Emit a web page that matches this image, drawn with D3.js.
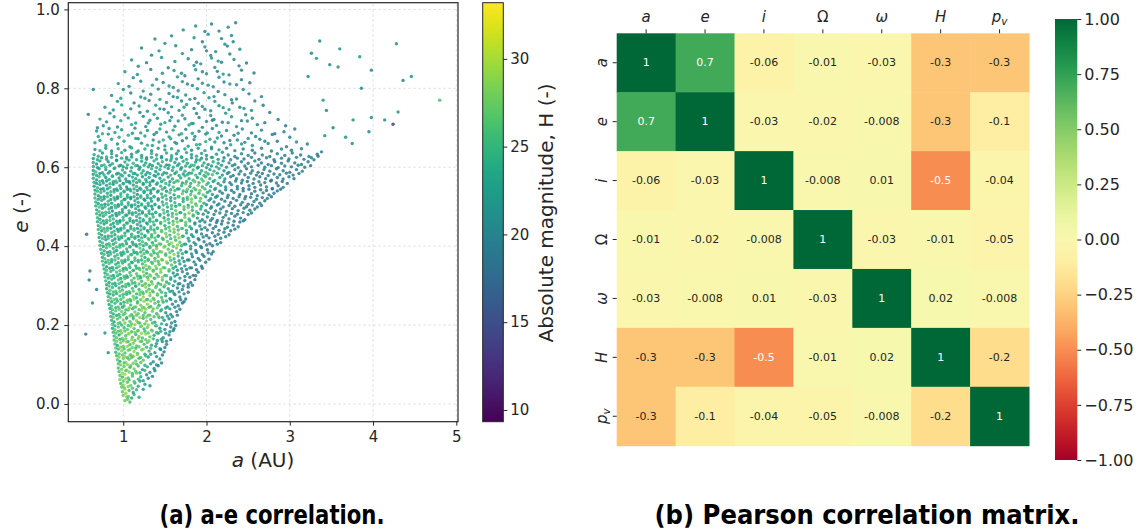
<!DOCTYPE html>
<html>
<head>
<meta charset="utf-8">
<script src="https://cdn.jsdelivr.net/npm/d3@7"></script>
<style>
  body { margin: 0; background: #fff; }
  svg text { font-family: "DejaVu Sans", sans-serif; fill: #262626; }
</style>
</head>
<body>
<svg id="fig" width="1141" height="532"></svg>
<script>
// ---- scatter data: [a (AU), e, H] ----
var apexBand = [
  [1.02,.008,28],[1.05,.012,27],[1.08,.005,26],[1.04,.018,29],[1.10,.015,24],
  [0.99,.031,27],[1.03,.027,29],[1.07,.034,26],[1.12,.029,23],[1.16,.036,25],[1.01,.041,28],
  [0.97,.052,26],[1.00,.048,29],[1.05,.055,27],[1.09,.047,28],[1.14,.053,24],[1.20,.058,22],[1.26,.050,23],[1.32,.046,21],
  [0.96,.072,27],[0.99,.068,25],[1.02,.075,30],[1.06,.066,27],[1.11,.071,26],[1.16,.078,28],[1.21,.069,24],[1.28,.074,22],[1.35,.070,20],
  [0.94,.091,26],[0.98,.088,28],[1.01,.095,27],[1.04,.086,29],[1.08,.093,25],[1.13,.089,28],[1.18,.096,26],[1.23,.087,23],[1.29,.094,24],[1.37,.090,21],[1.42,.097,20],
  [0.93,.112,27],[0.96,.108,24],[1.00,.115,28],[1.03,.106,30],[1.07,.113,27],[1.10,.118,26],[1.15,.109,28],[1.19,.116,25],[1.24,.111,27],[1.30,.119,23],[1.36,.107,22],[1.44,.114,21],
  [0.91,.131,25],[0.95,.127,27],[0.98,.135,29],[1.02,.129,26],[1.06,.136,28],[1.09,.125,27],[1.13,.133,29],[1.17,.128,26],[1.22,.137,28],[1.26,.126,24],[1.31,.134,25],[1.38,.130,22],[1.45,.138,21],[1.49,.132,20],
  [0.90,.152,26],[0.93,.148,24],[0.97,.155,28],[1.00,.146,27],[1.04,.157,29],[1.08,.150,26],[1.12,.154,28],[1.16,.147,27],[1.20,.158,30],[1.25,.151,26],[1.29,.156,27],[1.34,.149,24],[1.40,.153,22],[1.47,.158,21],[1.52,.151,20],
  [0.89,.172,25],[0.92,.168,27],[0.95,.175,23],[0.99,.166,28],[1.03,.173,26],[1.07,.178,29],[1.11,.169,27],[1.15,.176,25],[1.19,.171,28],[1.23,.167,26],[1.27,.177,29],[1.32,.170,27],[1.37,.174,24],[1.42,.179,23],[1.48,.168,22],[1.55,.175,20],
  [0.87,.192,24],[0.90,.188,27],[0.94,.195,26],[0.97,.186,28],[1.01,.193,25],[1.05,.189,27],[1.09,.197,29],[1.13,.191,26],[1.17,.185,28],[1.21,.196,27],[1.25,.190,25],[1.29,.194,28],[1.34,.187,26],[1.39,.198,23],[1.44,.192,22],[1.50,.189,21],[1.57,.195,20],[1.61,.191,19]
];
var midBand = [
  [0.86,.212,25],[0.89,.208,23],[0.93,.215,27],[0.96,.206,26],[1.00,.213,28],[1.04,.218,24],[1.08,.209,27],[1.12,.216,26],[1.16,.211,29],[1.20,.205,27],[1.24,.217,25],[1.28,.210,28],[1.33,.214,26],[1.38,.207,24],[1.43,.219,25],[1.49,.212,22],[1.55,.216,21],[1.62,.209,20],
  [0.85,.232,26],[0.88,.228,24],[0.91,.236,27],[0.95,.227,25],[0.98,.234,28],[1.02,.230,26],[1.06,.238,27],[1.10,.226,25],[1.14,.233,28],[1.18,.229,27],[1.22,.237,30],[1.26,.231,26],[1.30,.225,27],[1.35,.235,28],[1.40,.229,25],[1.45,.236,23],[1.51,.231,22],[1.57,.227,21],[1.64,.234,20],
  [0.83,.252,24],[0.86,.248,26],[0.90,.255,25],[0.94,.246,27],[0.97,.254,23],[1.01,.249,26],[1.05,.257,28],[1.09,.251,25],[1.13,.245,27],[1.17,.256,26],[1.21,.250,28],[1.25,.244,27],[1.29,.253,29],[1.33,.247,26],[1.38,.255,27],[1.43,.250,24],[1.48,.258,25],[1.53,.246,22],[1.59,.253,21],[1.66,.249,20],[1.71,.256,19],
  [0.82,.272,25],[0.85,.268,27],[0.88,.276,24],[0.92,.266,26],[0.96,.274,25],[1.00,.270,27],[1.04,.278,24],[1.08,.265,26],[1.12,.273,28],[1.16,.269,25],[1.20,.277,27],[1.24,.271,29],[1.28,.264,26],[1.32,.275,28],[1.36,.268,27],[1.41,.276,25],[1.46,.270,26],[1.51,.274,23],[1.56,.267,22],[1.62,.277,21],[1.68,.271,20],[1.75,.266,19],
  [0.80,.292,24],[0.84,.288,26],[0.87,.295,25],[0.91,.286,27],[0.95,.294,24],[0.99,.289,26],[1.03,.297,25],[1.07,.285,27],[1.11,.293,26],[1.15,.298,28],[1.19,.290,25],[1.23,.284,27],[1.27,.296,29],[1.31,.291,26],[1.35,.287,28],[1.39,.295,27],[1.44,.289,25],[1.49,.297,24],[1.54,.292,23],[1.59,.286,22],[1.65,.294,21],[1.71,.290,20],[1.78,.296,19],
  [0.79,.312,25],[0.83,.308,23],[0.86,.316,26],[0.90,.306,24],[0.94,.314,27],[0.98,.309,25],[1.02,.318,26],[1.06,.305,24],[1.10,.313,27],[1.14,.307,25],[1.18,.317,28],[1.22,.311,26],[1.26,.304,27],[1.30,.315,29],[1.34,.310,26],[1.38,.318,28],[1.42,.306,25],[1.47,.314,27],[1.52,.309,24],[1.57,.316,22],[1.62,.311,23],[1.68,.305,21],[1.74,.313,20],[1.81,.308,19],[1.86,.315,19],
  [0.78,.332,24],[0.81,.328,26],[0.85,.336,25],[0.88,.326,23],[0.92,.334,26],[0.96,.329,24],[1.00,.337,27],[1.04,.325,25],[1.08,.333,26],[1.12,.338,24],[1.16,.330,27],[1.20,.324,26],[1.24,.335,28],[1.28,.331,25],[1.32,.327,27],[1.36,.336,29],[1.40,.329,26],[1.45,.334,28],[1.50,.326,25],[1.55,.337,24],[1.60,.332,22],[1.65,.328,21],[1.71,.335,21],[1.77,.330,20],[1.84,.326,19],[1.90,.334,19],
  [0.76,.352,25],[0.80,.348,23],[0.83,.356,26],[0.87,.346,24],[0.91,.354,25],[0.95,.349,27],[0.99,.357,24],[1.03,.345,26],[1.07,.353,25],[1.11,.358,27],[1.15,.350,24],[1.19,.344,26],[1.23,.355,25],[1.27,.351,28],[1.31,.347,26],[1.35,.356,27],[1.39,.349,29],[1.43,.354,26],[1.48,.346,28],[1.53,.357,25],[1.58,.352,27],[1.63,.348,23],[1.68,.355,22],[1.74,.350,21],[1.80,.345,20],[1.87,.353,19],[1.94,.349,19],
  [0.75,.372,24],[0.78,.368,26],[0.82,.376,23],[0.86,.366,25],[0.90,.374,24],[0.94,.369,26],[0.98,.377,23],[1.02,.365,25],[1.06,.373,27],[1.10,.378,24],[1.14,.370,26],[1.18,.364,25],[1.22,.375,27],[1.26,.371,24],[1.30,.367,26],[1.34,.376,28],[1.38,.369,25],[1.42,.374,27],[1.46,.366,29],[1.51,.377,26],[1.56,.372,28],[1.61,.368,25],[1.66,.375,24],[1.71,.370,22],[1.77,.365,21],[1.83,.373,20],[1.90,.369,20],[1.97,.374,19],[2.03,.367,19],
  [0.73,.392,25],[0.77,.388,23],[0.80,.396,26],[0.84,.386,24],[0.88,.394,25],[0.92,.389,23],[0.96,.397,26],[1.00,.385,24],[1.04,.393,25],[1.08,.398,23],[1.12,.390,26],[1.16,.384,24],[1.20,.395,27],[1.24,.391,25],[1.28,.387,26],[1.32,.396,24],[1.36,.389,27],[1.40,.394,28],[1.44,.386,26],[1.49,.397,29],[1.54,.392,27],[1.59,.388,25],[1.64,.395,28],[1.69,.390,24],[1.75,.385,22],[1.81,.393,21],[1.87,.389,20],[1.94,.396,20],[2.01,.391,19],[2.08,.386,19],
  [0.72,.412,24],[0.75,.408,26],[0.79,.416,23],[0.83,.406,25],[0.87,.414,24],[0.91,.409,26],[0.95,.417,23],[0.99,.405,25],[1.03,.413,24],[1.07,.418,26],[1.11,.410,23],[1.15,.404,25],[1.19,.415,24],[1.23,.411,26],[1.27,.407,25],[1.31,.416,27],[1.35,.409,24],[1.39,.414,26],[1.43,.406,28],[1.48,.417,25],[1.53,.412,27],[1.58,.408,29],[1.63,.415,26],[1.68,.410,27],[1.73,.405,24],[1.79,.413,22],[1.85,.409,21],[1.91,.416,20],[1.97,.411,20],[2.04,.406,19],[2.11,.414,19],[2.17,.409,20],
  [0.71,.432,25],[0.74,.428,23],[0.78,.436,26],[0.82,.426,24],[0.86,.434,25],[0.90,.429,23],[0.94,.437,24],[0.98,.425,26],[1.02,.433,23],[1.06,.438,25],[1.10,.430,24],[1.14,.424,26],[1.18,.435,23],[1.22,.431,25],[1.26,.427,24],[1.30,.436,26],[1.34,.429,25],[1.38,.434,27],[1.42,.426,24],[1.46,.437,26],[1.51,.432,28],[1.56,.428,25],[1.61,.435,27],[1.66,.430,29],[1.71,.425,26],[1.76,.433,24],[1.82,.429,22],[1.88,.436,21],[1.94,.431,20],[2.00,.427,20],[2.07,.434,19],[2.14,.430,19],[2.21,.435,20],[2.27,.429,19]
];
var upperBand = [
  [0.70,.452,24],[0.73,.448,26],[0.77,.456,23],[0.81,.446,25],[0.85,.454,24],[0.89,.449,22],[0.93,.457,25],[0.97,.445,23],[1.01,.453,24],[1.05,.458,26],[1.09,.450,23],[1.13,.444,25],[1.17,.455,24],[1.21,.451,22],[1.25,.447,25],[1.29,.456,24],[1.33,.449,26],[1.37,.454,23],[1.41,.446,25],[1.45,.457,27],[1.50,.452,24],[1.55,.448,26],[1.60,.455,28],[1.65,.450,25],[1.70,.445,27],[1.75,.453,26],[1.80,.449,24],[1.86,.456,22],[1.92,.451,21],[1.98,.447,20],[2.04,.454,20],[2.11,.450,19],[2.18,.456,19],[2.25,.448,20],[2.32,.453,19],[2.38,.449,20],
  [0.69,.472,25],[0.72,.468,23],[0.76,.476,24],[0.80,.466,26],[0.84,.474,23],[0.88,.469,25],[0.92,.477,22],[0.96,.465,24],[1.00,.473,25],[1.04,.478,23],[1.08,.470,24],[1.12,.464,22],[1.16,.475,25],[1.20,.471,23],[1.24,.467,24],[1.28,.476,26],[1.32,.469,23],[1.36,.474,25],[1.40,.466,24],[1.44,.477,26],[1.49,.472,23],[1.54,.468,25],[1.59,.475,27],[1.64,.470,24],[1.69,.465,26],[1.74,.473,28],[1.79,.469,25],[1.84,.476,27],[1.89,.471,23],[1.95,.467,21],[2.01,.474,21],[2.07,.470,20],[2.13,.465,19],[2.20,.473,20],[2.27,.469,19],[2.34,.476,19],[2.41,.471,20],[2.46,.467,19],
  [0.68,.492,24],[0.71,.488,26],[0.75,.496,23],[0.79,.486,25],[0.83,.494,24],[0.87,.489,22],[0.91,.497,25],[0.95,.485,23],[0.99,.493,24],[1.03,.498,22],[1.07,.490,25],[1.11,.484,23],[1.15,.495,24],[1.19,.491,22],[1.23,.487,25],[1.27,.496,23],[1.31,.489,24],[1.35,.494,22],[1.39,.486,25],[1.43,.497,23],[1.48,.492,26],[1.53,.488,24],[1.58,.495,25],[1.63,.490,27],[1.68,.485,24],[1.73,.493,26],[1.78,.498,28],[1.83,.491,25],[1.88,.487,27],[1.93,.494,24],[1.99,.490,22],[2.05,.496,21],[2.11,.489,20],[2.17,.494,20],[2.24,.488,19],[2.31,.495,19],[2.38,.490,20],[2.45,.496,19],[2.52,.491,20],[2.58,.494,19],
  [0.67,.512,25],[0.70,.508,23],[0.74,.516,24],[0.78,.506,22],[0.82,.514,25],[0.86,.509,23],[0.90,.517,24],[0.94,.505,22],[0.98,.513,25],[1.02,.518,23],[1.06,.510,24],[1.10,.504,22],[1.14,.515,24],[1.18,.511,23],[1.22,.507,25],[1.26,.516,22],[1.30,.509,24],[1.34,.514,23],[1.38,.506,25],[1.42,.517,22],[1.47,.512,24],[1.52,.508,26],[1.57,.515,23],[1.62,.510,25],[1.67,.505,27],[1.72,.513,24],[1.77,.518,26],[1.82,.511,28],[1.87,.507,25],[1.92,.514,27],[1.97,.509,24],[2.03,.516,22],[2.09,.512,21],[2.15,.507,20],[2.22,.514,20],[2.29,.510,19],[2.36,.516,19],[2.43,.511,20],[2.50,.506,19],[2.57,.513,20],[2.64,.509,19],[2.70,.515,19],
  [0.66,.532,24],[0.70,.528,22],[0.73,.536,25],[0.77,.526,23],[0.81,.534,24],[0.85,.529,22],[0.89,.537,25],[0.93,.525,23],[0.97,.533,24],[1.01,.538,22],[1.05,.530,24],[1.09,.524,23],[1.13,.535,25],[1.17,.531,22],[1.21,.527,24],[1.25,.536,23],[1.29,.529,25],[1.33,.534,22],[1.37,.526,24],[1.41,.537,23],[1.46,.532,25],[1.51,.528,24],[1.56,.535,26],[1.61,.530,23],[1.66,.525,25],[1.71,.533,27],[1.76,.538,24],[1.81,.531,26],[1.86,.527,28],[1.91,.534,25],[1.96,.530,27],[2.01,.536,24],[2.07,.531,23],[2.13,.527,21],[2.19,.534,20],[2.26,.529,20],[2.33,.536,19],[2.40,.531,20],[2.47,.526,19],[2.54,.533,19],[2.61,.528,20],[2.68,.535,19],[2.75,.530,19],[2.81,.534,20],
  [0.65,.552,23],[0.69,.548,25],[0.72,.556,22],[0.76,.546,24],[0.80,.554,23],[0.84,.549,25],[0.88,.557,22],[0.92,.545,24],[0.96,.553,23],[1.00,.558,25],[1.04,.550,22],[1.08,.544,24],[1.12,.555,23],[1.16,.551,25],[1.20,.547,22],[1.24,.556,24],[1.28,.549,23],[1.32,.554,22],[1.36,.546,24],[1.40,.557,23],[1.45,.552,25],[1.50,.548,22],[1.55,.555,24],[1.60,.550,26],[1.65,.545,23],[1.70,.553,25],[1.75,.558,27],[1.80,.551,24],[1.85,.547,26],[1.90,.554,28],[1.95,.550,25],[2.00,.556,27],[2.05,.551,24],[2.11,.547,26],[2.17,.554,23],[2.23,.550,21],[2.30,.556,20],[2.37,.551,20],[2.44,.546,19],[2.51,.553,20],[2.58,.549,19],[2.65,.555,19],[2.72,.550,20],[2.79,.546,19],[2.86,.553,19],[2.92,.549,20],
  [0.64,.572,24],[0.68,.568,22],[0.71,.576,25],[0.75,.566,23],[0.79,.574,22],[0.83,.569,24],[0.87,.577,23],[0.91,.565,25],[0.95,.573,22],[0.99,.578,24],[1.03,.570,23],[1.07,.564,22],[1.11,.575,24],[1.15,.571,23],[1.19,.567,25],[1.23,.576,22],[1.27,.569,24],[1.31,.574,23],[1.35,.566,22],[1.39,.577,24],[1.44,.572,23],[1.49,.568,25],[1.54,.575,22],[1.59,.570,24],[1.64,.565,26],[1.69,.573,23],[1.74,.578,25],[1.79,.571,24],[1.84,.567,26],[1.89,.574,23],[1.94,.570,27],[1.99,.576,25],[2.04,.571,24],[2.10,.567,26],[2.16,.574,23],[2.22,.570,22],[2.29,.576,21],[2.36,.571,20],[2.43,.567,20],[2.50,.574,19],[2.57,.570,20],[2.64,.576,19],[2.71,.571,19],[2.78,.567,20],[2.85,.574,19],[2.92,.570,20],[2.99,.576,19],[3.05,.571,19],
  [0.64,.592,23],[0.67,.588,25],[0.71,.596,22],[0.75,.586,24],[0.79,.594,23],[0.84,.589,22],[0.89,.597,24],[0.94,.585,23],[0.99,.593,25],[1.04,.598,22],[1.09,.590,24],[1.14,.584,23],[1.19,.595,22],[1.24,.591,24],[1.29,.587,23],[1.34,.596,25],[1.39,.589,22],[1.44,.594,24],[1.49,.586,23],[1.54,.597,22],[1.59,.592,24],[1.64,.588,25],[1.69,.595,23],[1.74,.590,24],[1.79,.585,22],[1.84,.593,25],[1.89,.598,23],[1.94,.591,24],[1.99,.587,26],[2.04,.594,23],[2.09,.590,25],[2.15,.596,24],[2.21,.591,22],[2.27,.587,21],[2.34,.594,20],[2.41,.590,20],[2.48,.596,19],[2.55,.591,20],[2.62,.587,19],[2.69,.594,20],[2.76,.590,19],[2.84,.596,19],[2.92,.591,20],[3.00,.587,19],[3.08,.594,19],[3.15,.590,20],
  [0.64,.612,24],[0.68,.608,22],[0.72,.616,23],[0.77,.606,25],[0.82,.614,22],[0.87,.609,24],[0.92,.617,23],[0.97,.605,22],[1.02,.613,24],[1.07,.618,23],[1.12,.610,25],[1.17,.604,22],[1.22,.615,24],[1.27,.611,23],[1.32,.607,22],[1.37,.616,24],[1.42,.609,23],[1.47,.614,25],[1.52,.606,22],[1.57,.617,24],[1.62,.612,23],[1.67,.608,22],[1.72,.615,24],[1.77,.610,23],[1.82,.605,25],[1.87,.613,22],[1.92,.618,24],[1.97,.611,23],[2.02,.607,22],[2.08,.614,24],[2.14,.610,23],[2.20,.616,22],[2.27,.611,21],[2.34,.607,20],[2.42,.614,20],[2.50,.610,19],[2.58,.616,20],[2.66,.611,19],[2.74,.607,20],[2.82,.614,19],[2.90,.610,20],[2.98,.616,19],[3.06,.611,19],[3.14,.607,20],[3.22,.614,19],[3.29,.619,20],
  [0.65,.632,23],[0.70,.628,24],[0.75,.636,22],[0.80,.626,24],[0.86,.634,23],[0.92,.629,22],[0.98,.637,24],[1.04,.625,23],[1.10,.633,22],[1.16,.638,24],[1.22,.630,23],[1.28,.624,22],[1.34,.635,24],[1.40,.631,23],[1.46,.627,22],[1.52,.636,24],[1.58,.629,23],[1.64,.634,22],[1.70,.626,24],[1.76,.637,23],[1.82,.632,22],[1.88,.628,24],[1.94,.635,23],[2.00,.630,22],[2.06,.625,24],[2.12,.633,23],[2.19,.638,22],[2.26,.631,21],[2.34,.627,20],[2.42,.634,21],[2.50,.630,20],[2.58,.636,19],[2.67,.631,20],[2.76,.627,19],[2.85,.634,20],[2.94,.630,19],[3.03,.636,20],[3.13,.631,19],[3.23,.627,20],[3.33,.633,19],[3.38,.639,20]
];
// in-between rows of the dense wedge
var fillBand = [
  [1.00,.022,28],[1.06,.019,27],[1.13,.024,25],[1.19,.017,24],
  [0.98,.043,27],[1.02,.038,29],[1.06,.044,28],[1.11,.040,26],[1.18,.045,24],[1.24,.037,22],
  [0.96,.062,28],[1.00,.058,27],[1.03,.064,29],[1.07,.061,26],[1.13,.057,27],[1.18,.063,25],[1.24,.059,23],[1.30,.065,21],
  [0.95,.082,26],[0.99,.078,29],[1.03,.084,27],[1.07,.081,28],[1.11,.077,26],[1.15,.083,27],[1.20,.079,24],[1.26,.085,25],[1.32,.080,22],[1.38,.084,21],
  [0.94,.102,27],[0.97,.099,28],[1.01,.104,26],[1.05,.100,29],[1.09,.097,27],[1.12,.103,28],[1.16,.101,26],[1.21,.105,27],[1.26,.098,24],[1.33,.102,22],[1.40,.099,21],[1.46,.104,20],
  [0.92,.122,26],[0.95,.119,28],[0.99,.124,27],[1.02,.120,29],[1.05,.117,26],[1.08,.123,28],[1.12,.121,27],[1.17,.125,29],[1.21,.118,26],[1.27,.122,25],[1.33,.126,23],[1.40,.120,22],[1.47,.124,20],
  [0.91,.142,27],[0.94,.139,25],[0.97,.144,28],[1.01,.140,26],[1.05,.146,29],[1.08,.138,27],[1.11,.143,28],[1.15,.141,26],[1.19,.145,27],[1.24,.139,28],[1.28,.144,25],[1.33,.141,26],[1.39,.146,23],[1.44,.140,22],[1.50,.143,20],
  [0.89,.162,26],[0.92,.159,28],[0.96,.164,25],[1.00,.160,27],[1.03,.165,28],[1.06,.158,26],[1.10,.163,29],[1.14,.161,27],[1.18,.166,28],[1.22,.159,26],[1.27,.163,27],[1.31,.160,28],[1.36,.165,25],[1.41,.161,23],[1.46,.164,22],[1.52,.159,21],[1.57,.163,20],
  [0.88,.182,25],[0.91,.179,27],[0.94,.184,26],[0.98,.180,28],[1.02,.185,27],[1.06,.178,29],[1.10,.183,26],[1.14,.181,28],[1.18,.186,27],[1.22,.179,29],[1.26,.184,26],[1.30,.180,27],[1.35,.185,28],[1.40,.181,25],[1.45,.184,24],[1.51,.179,22],[1.56,.183,21],[1.60,.186,20],
  [0.87,.202,26],[0.90,.198,24],[0.94,.204,27],[0.98,.200,25],[1.02,.205,28],[1.06,.199,26],[1.10,.203,27],[1.14,.201,29],[1.18,.206,26],[1.22,.198,28],[1.26,.203,27],[1.30,.200,29],[1.35,.205,26],[1.40,.199,27],[1.46,.203,24],[1.52,.201,22],[1.58,.205,21],[1.63,.199,20],
  [0.85,.222,25],[0.88,.219,27],[0.92,.224,24],[0.96,.220,26],[1.00,.226,27],[1.04,.218,25],[1.08,.223,28],[1.12,.221,26],[1.16,.225,27],[1.20,.219,29],[1.24,.224,26],[1.28,.220,28],[1.32,.225,27],[1.37,.221,26],[1.42,.224,28],[1.47,.219,24],[1.53,.223,22],[1.59,.221,21],[1.65,.225,20],
  [0.84,.242,24],[0.87,.239,26],[0.91,.244,25],[0.95,.240,27],[0.99,.245,24],[1.03,.238,26],[1.07,.243,28],[1.11,.241,25],[1.15,.246,27],[1.19,.239,26],[1.23,.244,28],[1.27,.240,29],[1.31,.245,26],[1.36,.241,27],[1.41,.244,28],[1.46,.239,25],[1.51,.243,23],[1.56,.241,22],[1.62,.245,21],[1.68,.240,20],
  [0.82,.262,26],[0.86,.259,24],[0.89,.264,27],[0.93,.260,25],[0.97,.265,26],[1.01,.258,24],[1.05,.263,27],[1.09,.261,25],[1.13,.266,28],[1.17,.259,26],[1.21,.264,27],[1.25,.260,29],[1.29,.265,26],[1.33,.261,28],[1.37,.264,27],[1.42,.259,25],[1.47,.263,27],[1.52,.261,24],[1.57,.265,22],[1.63,.260,21],[1.69,.264,20],[1.73,.259,19],
  [0.81,.282,25],[0.84,.279,23],[0.88,.284,26],[0.92,.280,24],[0.96,.285,27],[1.00,.278,25],[1.04,.283,26],[1.08,.281,24],[1.12,.286,27],[1.16,.279,25],[1.20,.284,28],[1.24,.280,26],[1.28,.285,27],[1.32,.281,29],[1.36,.284,26],[1.41,.279,28],[1.46,.283,26],[1.51,.281,25],[1.56,.285,23],[1.61,.280,22],[1.67,.284,21],[1.73,.279,20],[1.78,.283,19],
  [0.80,.302,24],[0.83,.299,26],[0.87,.304,25],[0.91,.300,23],[0.95,.305,26],[0.99,.298,24],[1.03,.303,27],[1.07,.301,25],[1.11,.306,26],[1.15,.299,24],[1.19,.304,27],[1.23,.300,26],[1.27,.305,28],[1.31,.301,26],[1.35,.304,29],[1.40,.299,27],[1.45,.303,26],[1.50,.301,28],[1.55,.305,24],[1.60,.300,22],[1.66,.304,21],[1.72,.299,20],[1.78,.303,20],[1.83,.301,19],
  [0.78,.322,25],[0.82,.319,23],[0.85,.324,26],[0.89,.320,24],[0.93,.325,25],[0.97,.318,23],[1.01,.323,26],[1.05,.321,24],[1.09,.326,27],[1.13,.319,25],[1.17,.324,26],[1.21,.320,24],[1.25,.325,27],[1.29,.321,26],[1.33,.324,28],[1.37,.319,26],[1.42,.323,27],[1.47,.321,29],[1.52,.325,26],[1.57,.320,24],[1.62,.324,22],[1.68,.319,21],[1.74,.323,20],[1.80,.321,19],[1.87,.325,19],
  [0.77,.342,24],[0.80,.339,26],[0.84,.344,23],[0.88,.340,25],[0.92,.345,24],[0.96,.338,26],[1.00,.343,23],[1.04,.341,25],[1.08,.346,24],[1.12,.339,26],[1.16,.344,25],[1.20,.340,27],[1.24,.345,25],[1.28,.341,26],[1.32,.344,28],[1.36,.339,26],[1.40,.343,27],[1.45,.341,29],[1.50,.345,26],[1.55,.340,27],[1.60,.344,24],[1.65,.339,22],[1.70,.343,21],[1.76,.341,20],[1.82,.345,20],[1.88,.340,19],[1.95,.344,19],
  [0.75,.362,25],[0.79,.359,23],[0.82,.364,26],[0.86,.360,24],[0.90,.365,25],[0.94,.358,23],[0.98,.363,26],[1.02,.361,24],[1.06,.366,25],[1.10,.359,23],[1.14,.364,26],[1.18,.360,25],[1.22,.365,24],[1.26,.361,27],[1.30,.364,25],[1.34,.359,26],[1.38,.363,28],[1.42,.361,26],[1.47,.365,27],[1.52,.360,29],[1.57,.364,26],[1.62,.359,25],[1.67,.363,23],[1.73,.361,21],[1.79,.365,20],[1.85,.360,20],[1.92,.364,19],[1.99,.359,19],
  [0.74,.382,24],[0.77,.379,26],[0.81,.384,23],[0.85,.380,25],[0.89,.385,24],[0.93,.378,26],[0.97,.383,23],[1.01,.381,25],[1.05,.386,24],[1.09,.379,26],[1.13,.384,23],[1.17,.380,25],[1.21,.385,24],[1.25,.381,26],[1.29,.384,25],[1.33,.379,27],[1.37,.383,24],[1.41,.381,26],[1.46,.385,28],[1.51,.380,26],[1.56,.384,27],[1.61,.379,29],[1.66,.383,26],[1.71,.381,24],[1.76,.385,22],[1.82,.380,21],[1.88,.384,20],[1.95,.379,20],[2.02,.383,19],[2.06,.380,19],
  [0.72,.402,25],[0.76,.399,23],[0.80,.404,24],[0.84,.400,26],[0.88,.405,23],[0.92,.398,25],[0.96,.403,24],[1.00,.401,26],[1.04,.406,23],[1.08,.399,25],[1.12,.404,24],[1.16,.400,22],[1.20,.405,25],[1.24,.401,24],[1.28,.404,26],[1.32,.399,25],[1.36,.403,27],[1.40,.401,24],[1.45,.405,26],[1.50,.400,28],[1.55,.404,26],[1.60,.399,27],[1.65,.403,29],[1.70,.401,25],[1.75,.405,23],[1.81,.400,21],[1.87,.404,21],[1.93,.399,20],[2.00,.403,20],[2.07,.401,19],[2.13,.405,19],
  [0.71,.422,24],[0.75,.419,26],[0.78,.424,23],[0.82,.420,25],[0.86,.425,24],[0.90,.418,22],[0.94,.423,25],[0.98,.421,24],[1.02,.426,26],[1.06,.419,23],[1.10,.424,25],[1.14,.420,24],[1.18,.425,22],[1.22,.421,25],[1.26,.424,24],[1.30,.419,26],[1.34,.423,25],[1.38,.421,27],[1.42,.425,24],[1.47,.420,26],[1.52,.424,28],[1.57,.419,25],[1.62,.423,27],[1.67,.421,28],[1.72,.425,25],[1.78,.420,23],[1.84,.424,21],[1.90,.419,20],[1.96,.423,20],[2.03,.421,19],[2.10,.425,19],[2.17,.420,20],[2.23,.424,19],
  [0.70,.442,25],[0.74,.439,23],[0.77,.444,24],[0.81,.440,26],[0.85,.445,23],[0.89,.438,25],[0.93,.443,22],[0.97,.441,24],[1.01,.446,25],[1.05,.439,23],[1.09,.444,24],[1.13,.440,26],[1.17,.445,23],[1.21,.441,25],[1.25,.444,24],[1.29,.439,22],[1.33,.443,25],[1.37,.441,24],[1.41,.445,26],[1.46,.440,27],[1.51,.444,25],[1.56,.439,27],[1.61,.443,28],[1.66,.441,25],[1.71,.445,26],[1.76,.440,24],[1.82,.444,22],[1.88,.439,21],[1.94,.443,20],[2.01,.441,20],[2.08,.445,19],[2.15,.440,19],[2.22,.444,20],[2.29,.439,19],[2.34,.443,19],
  [0.69,.462,24],[0.73,.459,25],[0.76,.464,23],[0.80,.460,24],[0.84,.465,26],[0.88,.458,23],[0.92,.463,24],[0.96,.461,22],[1.00,.466,25],[1.04,.459,24],[1.08,.464,23],[1.12,.460,25],[1.16,.465,24],[1.20,.461,22],[1.24,.464,25],[1.28,.459,23],[1.32,.463,24],[1.36,.461,26],[1.40,.465,24],[1.45,.460,25],[1.50,.464,27],[1.55,.459,24],[1.60,.463,26],[1.65,.461,28],[1.70,.465,25],[1.75,.460,27],[1.80,.464,24],[1.86,.459,22],[1.92,.463,21],[1.98,.461,20],[2.05,.465,20],[2.12,.460,19],[2.19,.464,19],[2.26,.459,20],[2.33,.463,19],[2.40,.461,19],[2.44,.464,20],
  [0.68,.482,25],[0.72,.479,23],[0.75,.484,24],[0.79,.480,26],[0.83,.485,23],[0.87,.478,24],[0.91,.483,22],[0.95,.481,25],[0.99,.486,23],[1.03,.479,24],[1.07,.484,22],[1.11,.480,25],[1.15,.485,23],[1.19,.481,24],[1.23,.484,22],[1.27,.479,25],[1.31,.483,24],[1.35,.481,23],[1.39,.485,25],[1.44,.480,24],[1.49,.484,26],[1.54,.479,23],[1.59,.483,25],[1.64,.481,27],[1.69,.485,24],[1.74,.480,26],[1.79,.484,28],[1.84,.479,25],[1.90,.483,23],[1.96,.481,21],[2.02,.485,20],[2.09,.480,20],[2.16,.484,19],[2.23,.479,19],[2.30,.483,20],[2.37,.481,19],[2.44,.485,20],[2.50,.480,19],[2.54,.484,19],
  [0.67,.502,24],[0.71,.499,26],[0.74,.504,23],[0.78,.500,25],[0.82,.505,24],[0.86,.498,22],[0.90,.503,25],[0.94,.501,23],[0.98,.506,24],[1.02,.499,22],[1.06,.504,25],[1.10,.500,23],[1.14,.505,24],[1.18,.501,22],[1.22,.504,25],[1.26,.499,23],[1.30,.503,24],[1.34,.501,22],[1.38,.505,25],[1.43,.500,23],[1.48,.504,25],[1.53,.499,24],[1.58,.503,26],[1.63,.501,23],[1.68,.505,25],[1.73,.500,27],[1.78,.504,24],[1.83,.499,26],[1.88,.503,28],[1.94,.501,24],[2.00,.505,22],[2.06,.500,21],[2.13,.504,20],[2.20,.499,20],[2.27,.503,19],[2.34,.501,19],[2.41,.505,20],[2.48,.500,19],[2.55,.504,19],[2.61,.499,20],[2.66,.503,19],
  [0.66,.522,25],[0.70,.519,23],[0.73,.524,24],[0.77,.520,22],[0.81,.525,25],[0.85,.518,23],[0.89,.523,24],[0.93,.521,22],[0.97,.526,25],[1.01,.519,23],[1.05,.524,24],[1.09,.520,22],[1.13,.525,24],[1.17,.521,23],[1.21,.524,25],[1.25,.519,22],[1.29,.523,24],[1.33,.521,23],[1.37,.525,25],[1.42,.520,22],[1.47,.524,24],[1.52,.519,26],[1.57,.523,23],[1.62,.521,25],[1.67,.525,27],[1.72,.520,24],[1.77,.524,26],[1.82,.519,28],[1.87,.523,25],[1.93,.521,27],[1.99,.525,23],[2.05,.520,21],[2.11,.524,20],[2.18,.519,20],[2.25,.523,19],[2.32,.521,19],[2.39,.525,20],[2.46,.520,19],[2.53,.524,20],[2.60,.519,19],[2.67,.523,19],[2.73,.521,20],[2.78,.525,19],
  [0.66,.542,23],[0.69,.539,25],[0.73,.544,22],[0.77,.540,24],[0.81,.545,23],[0.85,.538,25],[0.89,.543,22],[0.93,.541,24],[0.97,.546,23],[1.01,.539,25],[1.05,.544,22],[1.09,.540,24],[1.13,.545,23],[1.17,.541,22],[1.21,.544,24],[1.25,.539,23],[1.29,.543,25],[1.33,.541,22],[1.37,.545,24],[1.42,.540,23],[1.47,.544,25],[1.52,.539,22],[1.57,.543,24],[1.62,.541,26],[1.67,.545,23],[1.72,.540,25],[1.77,.544,27],[1.82,.539,24],[1.87,.543,26],[1.92,.541,28],[1.98,.545,25],[2.04,.540,23],[2.10,.544,21],[2.16,.539,20],[2.23,.543,20],[2.30,.541,19],[2.37,.545,20],[2.44,.540,19],[2.51,.544,19],[2.58,.539,20],[2.65,.543,19],[2.72,.541,19],[2.79,.545,20],[2.85,.540,19],[2.89,.544,19],
  [0.65,.562,24],[0.68,.559,22],[0.72,.564,25],[0.76,.560,23],[0.80,.565,22],[0.84,.558,24],[0.88,.563,23],[0.92,.561,25],[0.96,.566,22],[1.00,.559,24],[1.04,.564,23],[1.08,.560,22],[1.12,.565,24],[1.16,.561,23],[1.20,.564,25],[1.24,.559,22],[1.28,.563,24],[1.32,.561,23],[1.36,.565,22],[1.41,.560,24],[1.46,.564,23],[1.51,.559,25],[1.56,.563,22],[1.61,.561,24],[1.66,.565,26],[1.71,.560,23],[1.76,.564,25],[1.81,.559,24],[1.86,.563,27],[1.91,.561,25],[1.96,.565,26],[2.02,.560,24],[2.08,.564,22],[2.14,.559,21],[2.21,.563,20],[2.28,.561,20],[2.35,.565,19],[2.42,.560,20],[2.49,.564,19],[2.56,.559,19],[2.63,.563,20],[2.70,.561,19],[2.77,.565,19],[2.84,.560,20],[2.91,.564,19],[2.97,.559,19],
  [0.64,.582,23],[0.68,.579,24],[0.72,.584,22],[0.77,.580,24],[0.82,.585,23],[0.87,.578,25],[0.92,.583,22],[0.97,.581,24],[1.02,.586,23],[1.07,.579,22],[1.12,.584,24],[1.17,.580,23],[1.22,.585,25],[1.27,.581,22],[1.32,.584,24],[1.37,.579,23],[1.42,.583,22],[1.47,.581,24],[1.52,.585,23],[1.57,.580,25],[1.62,.584,22],[1.67,.579,24],[1.72,.583,23],[1.77,.581,25],[1.82,.585,24],[1.87,.580,26],[1.92,.584,23],[1.97,.579,25],[2.02,.583,24],[2.07,.581,26],[2.13,.585,23],[2.19,.580,22],[2.25,.584,21],[2.32,.579,20],[2.39,.583,20],[2.46,.581,19],[2.53,.585,20],[2.60,.580,19],[2.67,.584,19],[2.74,.579,20],[2.81,.583,19],[2.88,.581,20],[2.96,.585,19],[3.04,.580,19],[3.11,.584,20],
  [0.64,.602,24],[0.69,.599,22],[0.74,.604,23],[0.79,.600,25],[0.84,.605,22],[0.90,.598,24],[0.95,.603,23],[1.00,.601,22],[1.05,.606,24],[1.10,.599,23],[1.15,.604,25],[1.20,.600,22],[1.25,.605,24],[1.30,.601,23],[1.35,.604,22],[1.40,.599,24],[1.45,.603,23],[1.50,.601,25],[1.55,.605,22],[1.60,.600,24],[1.65,.604,23],[1.70,.599,22],[1.75,.603,24],[1.80,.601,23],[1.85,.605,25],[1.90,.600,22],[1.95,.604,24],[2.00,.599,23],[2.06,.603,22],[2.12,.601,24],[2.18,.605,22],[2.24,.600,21],[2.31,.604,20],[2.38,.599,20],[2.46,.603,19],[2.54,.601,20],[2.62,.605,19],[2.70,.600,20],[2.78,.604,19],[2.86,.599,19],[2.94,.603,20],[3.02,.601,19],[3.10,.605,19],[3.18,.600,20],[3.25,.604,19],
  [0.64,.622,23],[0.69,.619,24],[0.74,.624,22],[0.80,.620,23],[0.86,.625,24],[0.92,.618,22],[0.98,.623,23],[1.04,.621,24],[1.10,.626,22],[1.16,.619,23],[1.22,.624,24],[1.28,.620,22],[1.34,.625,23],[1.40,.621,24],[1.46,.624,22],[1.52,.619,23],[1.58,.623,24],[1.64,.621,22],[1.70,.625,23],[1.76,.620,24],[1.82,.624,22],[1.88,.619,23],[1.94,.623,21],[2.00,.621,22],[2.07,.625,23],[2.14,.620,21],[2.21,.624,20],[2.29,.619,21],[2.37,.623,20],[2.45,.621,19],[2.54,.625,20],[2.63,.620,19],[2.72,.624,20],[2.81,.619,19],[2.90,.623,20],[2.99,.621,19],[3.08,.625,20],[3.17,.620,19],[3.26,.624,20],[3.34,.628,19],
  [0.66,.645,22],[0.72,.642,24],[0.79,.648,23],[0.86,.641,21],[0.94,.647,24],[1.02,.643,22],[1.10,.649,23],[1.18,.641,21],[1.26,.646,24],[1.34,.642,22],[1.42,.648,23],[1.50,.644,21],[1.58,.647,24],[1.66,.641,22],[1.74,.646,23],[1.82,.643,21],[1.90,.648,22],[1.98,.642,24],[2.06,.647,21],[2.15,.644,22],[2.24,.648,20],[2.34,.642,21],[2.44,.646,20],[2.55,.643,19],[2.66,.648,20],[2.78,.641,19],[2.90,.646,20],[3.02,.643,19],[3.14,.647,20]
];
var sparseCloud = [
  [0.66,.662,23],[0.72,.668,22],[0.79,.655,24],[0.86,.671,23],[0.93,.659,21],[1.01,.666,24],[1.08,.652,22],[1.15,.673,23],[1.22,.661,21],[1.29,.656,24],[1.36,.669,22],[1.43,.664,23],[1.50,.654,21],[1.57,.672,24],[1.64,.660,22],[1.71,.667,20],[1.78,.653,23],[1.85,.670,21],[1.92,.658,22],[1.99,.665,24],[2.06,.651,21],[2.13,.674,22],[2.21,.662,20],[2.29,.657,23],[2.37,.669,21],[2.46,.663,20],[2.55,.655,22],[2.64,.671,20],[2.74,.660,21],[2.85,.666,19],[2.96,.652,20],[3.08,.664,21],[3.21,.659,20],
  [0.70,.678,23],[0.82,.684,21],[0.95,.676,24],[1.11,.686,22],[1.26,.679,23],[1.40,.688,21],[1.55,.677,22],[1.70,.685,24],[1.86,.678,21],[2.01,.687,22],[2.18,.679,20],[2.38,.686,21],[2.59,.678,20],[2.82,.685,19],[3.00,.676,20],
  [0.68,.692,22],[0.75,.685,24],[0.83,.698,21],[0.90,.688,23],[0.98,.695,22],[1.06,.681,24],[1.14,.699,21],[1.21,.687,23],[1.29,.693,22],[1.37,.683,20],[1.44,.697,23],[1.52,.689,21],[1.60,.694,24],[1.67,.682,22],[1.75,.696,20],[1.83,.686,23],[1.91,.691,21],[1.99,.684,22],[2.07,.698,20],[2.15,.688,23],[2.24,.693,21],[2.33,.681,20],[2.43,.697,22],[2.54,.687,20],[2.66,.694,21],[2.79,.683,19],[2.93,.690,20],[3.06,.697,19],
  [0.76,.705,22],[0.93,.702,21],[1.10,.708,23],[1.27,.703,20],[1.45,.709,22],[1.62,.704,21],[1.79,.707,23],[1.95,.701,20],[2.12,.706,22],[2.36,.703,21],[2.61,.708,20],[2.95,.705,19],
  [0.72,.722,23],[0.80,.715,21],[0.89,.728,22],[0.97,.718,24],[1.06,.725,21],[1.15,.712,23],[1.24,.729,20],[1.32,.719,22],[1.41,.724,21],[1.50,.713,23],[1.58,.727,20],[1.66,.717,22],[1.74,.723,21],[1.82,.711,23],[1.91,.726,20],[2.00,.716,22],[2.09,.721,21],[2.19,.714,20],[2.30,.728,22],[2.42,.718,20],[2.55,.724,21],[2.70,.713,19],[2.86,.721,20],
  [0.84,.737,21],[1.02,.733,22],[1.20,.739,20],[1.37,.734,23],[1.54,.738,21],[1.71,.732,22],[1.88,.736,20],[2.05,.731,22],[2.23,.737,21],[2.47,.733,20],[2.76,.739,19],
  [0.78,.752,22],[0.88,.745,21],[0.98,.758,23],[1.09,.748,20],[1.19,.755,22],[1.29,.742,21],[1.39,.757,23],[1.49,.747,20],[1.58,.753,22],[1.67,.744,21],[1.76,.759,23],[1.85,.749,20],[1.95,.754,22],[2.05,.743,21],[2.15,.756,20],[2.27,.746,22],[2.40,.752,20],[2.54,.744,21],[2.68,.757,19],
  [0.93,.767,22],[1.13,.763,20],[1.31,.769,21],[1.52,.764,22],[1.70,.768,20],[1.90,.762,21],[2.10,.767,22],[2.31,.763,20],[2.58,.768,21],
  [0.86,.782,21],[0.97,.775,23],[1.09,.788,20],[1.21,.778,22],[1.33,.785,21],[1.44,.772,23],[1.55,.787,20],[1.65,.777,22],[1.75,.783,21],[1.86,.774,20],[1.97,.789,22],[2.09,.779,21],[2.22,.784,20],[2.36,.773,21],[2.51,.786,19],[2.66,.779,20],
  [1.00,.797,21],[1.24,.793,22],[1.42,.798,20],[1.66,.794,21],[1.89,.799,22],[2.14,.792,20],[2.44,.797,21],
  [0.94,.812,22],[1.07,.805,20],[1.21,.818,21],[1.35,.808,23],[1.48,.815,20],[1.60,.802,22],[1.71,.817,21],[1.83,.807,20],[1.95,.813,22],[2.08,.804,21],[2.21,.816,20],[2.36,.809,21],[2.52,.814,19],
  [1.12,.827,20],[1.40,.823,21],[1.65,.829,22],[1.90,.824,20],[2.15,.828,21],[2.42,.822,20],
  [1.02,.842,21],[1.17,.835,22],[1.33,.848,20],[1.47,.838,21],[1.61,.845,22],[1.74,.832,20],[1.87,.847,21],[2.00,.837,22],[2.13,.843,20],[2.27,.834,21],[2.42,.846,20],[2.57,.839,19],
  [1.18,.856,21],[1.54,.852,20],[1.85,.858,22],[2.10,.853,21],[2.39,.857,20],
  [1.10,.872,21],[1.28,.865,20],[1.46,.878,22],[1.62,.868,21],[1.78,.875,20],[1.93,.862,22],[2.06,.877,21],[2.18,.866,20],[2.33,.873,21],[2.48,.864,20],
  [1.34,.884,20],[1.71,.888,21],[2.05,.883,22],[2.28,.887,20],
  [1.22,.902,20],[1.43,.895,22],[1.63,.908,21],[1.82,.898,20],[1.98,.905,22],[2.11,.893,21],[2.25,.907,20],[2.40,.899,21],
  [1.50,.914,21],[1.95,.918,20],[2.22,.912,21],
  [1.38,.925,21],[1.58,.933,20],[1.85,.928,22],[2.02,.937,21],[2.18,.926,20],[2.30,.934,21],
  [2.15,.945,20],[1.72,.948,21],
  [1.87,.958,21],[2.06,.963,20],[2.26,.955,21],[2.35,.966,20]
];
// extra points where the upper cloud is thicker (a 1.2-2.7, e 0.65-0.95)
var upperFill = [
  [1.35,.655,23],[1.62,.663,22],[1.88,.657,24],[2.10,.664,21],[2.42,.659,22],[2.70,.666,20],
  [1.18,.672,22],[1.48,.669,24],[1.76,.674,21],[2.04,.671,23],[2.28,.668,20],[2.50,.673,21],
  [1.30,.712,22],[1.56,.718,21],[1.84,.711,23],[2.07,.719,20],[2.26,.713,22],[2.49,.717,21],
  [1.44,.748,21],[1.73,.752,23],[1.98,.747,20],[2.20,.751,22],[2.45,.749,21],
  [1.26,.775,22],[1.60,.779,20],[1.80,.772,23],[2.03,.776,21],[2.30,.771,20],
  [1.55,.806,22],[1.77,.811,20],[2.02,.808,21],[2.28,.811,22],
  [1.70,.838,21],[1.95,.842,20],[2.20,.836,22],
  [1.88,.866,20],[2.14,.869,21],
  [2.00,.895,21],[2.32,.918,20],[1.98,.944,21]
];
var leftStrays = [
  [0.56,.43,18],[0.60,.337,19],[0.59,.314,20],[0.63,.256,21],[0.55,.177,18],[0.68,.29,20],
  [0.58,.734,19],[0.64,.797,20],[0.69,.70,21],[0.78,.18,22],[0.82,.13,21]
];
var farStrays = [
  [4.28,.913,21],[4.46,.83,22],[4.36,.82,20],[4.80,.77,26],[4.24,.709,14],[4.14,.72,21],[4.30,.74,22],
  [3.98,.726,21],[3.95,.69,20],[3.86,.80,21],[3.98,.846,20],[3.84,.88,22],[3.60,.90,21],[3.36,.92,20],
  [3.67,.676,22],[3.75,.66,21],[3.52,.70,20],[3.76,.72,22],[3.42,.68,21],[3.44,.744,20],[3.58,.854,21],
  [3.48,.86,20],[3.32,.876,22],[3.22,.83,21],[3.40,.77,22],[3.26,.889,20]
];

var aTicks = [1, 2, 3, 4, 5];
var eTicks = [0, 0.2, 0.4, 0.6, 0.8, 1.0];
var hTicks = [10, 15, 20, 25, 30];

// ---- correlation matrix ----
var varNames = ["a", "e", "i", "Ω", "ω", "H", "pv"];
var corrRows = [
  [1, 0.7, -0.06, -0.01, -0.03, -0.3, -0.3],
  [0.7, 1, -0.03, -0.02, -0.008, -0.3, -0.1],
  [-0.06, -0.03, 1, -0.008, 0.01, -0.5, -0.04],
  [-0.01, -0.02, -0.008, 1, -0.03, -0.01, -0.05],
  [-0.03, -0.008, 0.01, -0.03, 1, 0.02, -0.008],
  [-0.3, -0.3, -0.5, -0.01, 0.02, 1, -0.2],
  [-0.3, -0.1, -0.04, -0.05, -0.008, -0.2, 1]
];
var corrTicks = [-1, -0.75, -0.5, -0.25, 0, 0.25, 0.5, 0.75, 1];

var svg = d3.select("#fig");
var ink = "#262626";

// ================= (a) scatter =================
var x = d3.scaleLinear().domain([0.34, 5.02]).range([68.3, 458]);
var y = d3.scaleLinear().domain([-0.045, 1.017]).range([421.7, 2.7]);
var hColor = d3.scaleSequential(d3.interpolateViridis).domain([9.33, 33.2]);

var left = svg.append("g");

// grid
left.append("g").selectAll("line").data(aTicks).enter().append("line")
  .attr("x1", d => x(d)).attr("x2", d => x(d))
  .attr("y1", y.range()[0]).attr("y2", y.range()[1])
  .attr("stroke", "#d8d8d8").attr("stroke-width", 0.8).attr("stroke-dasharray", "2.5,2.5");
left.append("g").selectAll("line").data(eTicks).enter().append("line")
  .attr("y1", d => y(d)).attr("y2", d => y(d))
  .attr("x1", x.range()[0]).attr("x2", x.range()[1])
  .attr("stroke", "#d8d8d8").attr("stroke-width", 0.8).attr("stroke-dasharray", "2.5,2.5");

var allPts = [].concat(apexBand, midBand, upperBand, fillBand, sparseCloud, upperFill, leftStrays, farStrays);
left.append("g").selectAll("circle").data(allPts).enter().append("circle")
  .attr("cx", d => x(d[0]))
  .attr("cy", d => y(d[1]))
  .attr("r", 1.7)
  .attr("fill", d => hColor(d[2]))
  .attr("fill-opacity", 0.85);

// axes
var xAxis = left.append("g").attr("transform", "translate(0,421.7)")
  .call(d3.axisBottom(x).tickValues(aTicks).tickFormat(d3.format("d")).tickSize(4).tickSizeOuter(0));
var yAxis = left.append("g").attr("transform", "translate(68.3,0)")
  .call(d3.axisLeft(y).tickValues(eTicks).tickFormat(d3.format(".1f")).tickSize(4).tickSizeOuter(0));
[xAxis, yAxis].forEach(function(g) {
  g.select(".domain").remove();
  g.selectAll(".tick line").attr("stroke", ink).attr("stroke-width", 1);
  g.selectAll(".tick text").attr("font-size", 15).attr("font-family", "DejaVu Sans").attr("fill", ink);
});
xAxis.selectAll(".tick text").attr("dy", "0.9em");
yAxis.selectAll(".tick text").attr("dx", "-0.1em");

left.append("rect")
  .attr("x", 68.3).attr("y", 2.7).attr("width", 458 - 68.3).attr("height", 421.7 - 2.7)
  .attr("fill", "none").attr("stroke", ink).attr("stroke-width", 1.2);

var xl = left.append("text").attr("x", 263).attr("y", 467).attr("text-anchor", "middle").attr("font-size", 20);
xl.append("tspan").attr("font-style", "italic").text("a");
xl.append("tspan").text(" (AU)");

var yl = left.append("text").attr("transform", "translate(28,212) rotate(-90)")
  .attr("text-anchor", "middle").attr("font-size", 20);
yl.append("tspan").attr("font-style", "italic").text("e");
yl.append("tspan").text(" (-)");

// viridis colour bar
var defs = svg.append("defs");
var gradV = defs.append("linearGradient").attr("id", "viridisGrad")
  .attr("x1", 0).attr("y1", 1).attr("x2", 0).attr("y2", 0);
d3.range(0, 1.0001, 0.05).forEach(function(t) {
  gradV.append("stop").attr("offset", t).attr("stop-color", d3.interpolateViridis(t));
});
var cbH = d3.scaleLinear().domain([9.33, 33.2]).range([421.7, 2.7]);
left.append("rect").attr("x", 482.7).attr("y", 2.7).attr("width", 20.6).attr("height", 419)
  .attr("fill", "url(#viridisGrad)").attr("stroke", ink).attr("stroke-width", 1);
var cbAxis = left.append("g").attr("transform", "translate(503.3,0)")
  .call(d3.axisRight(cbH).tickValues(hTicks).tickSize(4).tickSizeOuter(0));
cbAxis.select(".domain").remove();
cbAxis.selectAll(".tick line").attr("stroke", ink);
cbAxis.selectAll(".tick text").attr("font-size", 15).attr("font-family", "DejaVu Sans").attr("fill", ink);
left.append("text").attr("transform", "translate(553,213) rotate(-90)")
  .attr("text-anchor", "middle").attr("font-size", 20)
  .text("Absolute magnitude, H (-)");

// ================= (b) heatmap =================
var right = svg.append("g");
var cx = d3.scaleBand().domain(varNames).range([616.7, 1029]);
var cy = d3.scaleBand().domain(varNames).range([33.3, 445.7]);
var corrColor = d3.scaleSequential(d3.interpolateRdYlGn).domain([-1, 1]);

function lum(c) {
  var rgb = d3.rgb(c);
  var f = function(v) { v /= 255; return v <= 0.03928 ? v / 12.92 : Math.pow((v + 0.055) / 1.055, 2.4); };
  return 0.2126 * f(rgb.r) + 0.7152 * f(rgb.g) + 0.0722 * f(rgb.b);
}

var cells = [];
corrRows.forEach(function(row, i) {
  row.forEach(function(v, j) { cells.push({ r: varNames[i], c: varNames[j], v: v }); });
});

right.append("g").selectAll("rect").data(cells).enter().append("rect")
  .attr("x", d => cx(d.c)).attr("y", d => cy(d.r))
  .attr("width", cx.bandwidth() + 0.5).attr("height", cy.bandwidth() + 0.5)
  .attr("fill", d => corrColor(d.v));

right.append("g").selectAll("text").data(cells).enter().append("text")
  .attr("x", d => cx(d.c) + cx.bandwidth() / 2)
  .attr("y", d => cy(d.r) + cy.bandwidth() / 2)
  .attr("text-anchor", "middle").attr("dominant-baseline", "central")
  .attr("font-size", 11)
  .style("fill", d => lum(corrColor(d.v)) > 0.408 ? ink : "#ffffff")
  .text(d => String(d.v));

function varLabel(sel, name) {
  if (name === "pv") {
    sel.append("tspan").attr("font-style", "italic").text("p");
    sel.append("tspan").attr("font-style", "italic").attr("font-size", "0.7em").attr("dy", "0.25em").text("v");
  } else {
    sel.append("tspan").attr("font-style", name === "Ω" ? "normal" : "italic").text(name);
  }
}

// top tick marks + labels
varNames.forEach(function(n) {
  var xc = cx(n) + cx.bandwidth() / 2;
  right.append("line").attr("x1", xc).attr("x2", xc).attr("y1", 29.3).attr("y2", 33.3)
    .attr("stroke", ink).attr("stroke-width", 1);
  var t = right.append("text").attr("x", xc).attr("y", 22).attr("text-anchor", "middle").attr("font-size", 15);
  varLabel(t, n);
});
// left tick marks + labels
varNames.forEach(function(n) {
  var yc = cy(n) + cy.bandwidth() / 2;
  right.append("line").attr("x1", 612.7).attr("x2", 616.7).attr("y1", yc).attr("y2", yc)
    .attr("stroke", ink).attr("stroke-width", 1);
  var t = right.append("text").attr("transform", "translate(607," + yc + ") rotate(-90)")
    .attr("text-anchor", "middle").attr("font-size", 15);
  varLabel(t, n);
});

// RdYlGn colour bar
var gradC = defs.append("linearGradient").attr("id", "rdylgnGrad")
  .attr("x1", 0).attr("y1", 1).attr("x2", 0).attr("y2", 0);
d3.range(0, 1.0001, 0.05).forEach(function(t) {
  gradC.append("stop").attr("offset", t).attr("stop-color", d3.interpolateRdYlGn(t));
});
var cbC = d3.scaleLinear().domain([-1, 1]).range([460, 19]);
right.append("rect").attr("x", 1055).attr("y", 19).attr("width", 22.3).attr("height", 441)
  .attr("fill", "url(#rdylgnGrad)");
var cbCAxis = right.append("g").attr("transform", "translate(1077.3,0)")
  .call(d3.axisRight(cbC).tickValues(corrTicks).tickFormat(d3.format(".2f")).tickSize(4).tickSizeOuter(0));
cbCAxis.select(".domain").remove();
cbCAxis.selectAll(".tick line").attr("stroke", ink);
cbCAxis.selectAll(".tick text").attr("font-size", 16).attr("font-family", "DejaVu Sans").attr("fill", ink);

// ================= captions =================
svg.append("text").attr("x", 272).attr("y", 524).attr("text-anchor", "middle")
  .attr("font-family", "'Liberation Sans Narrow', 'Liberation Sans', Arial, sans-serif")
  .attr("font-weight", "bold").attr("font-size", 27).style("fill", "#000")
  .attr("textLength", 225).attr("lengthAdjust", "spacingAndGlyphs")
  .text("(a) a-e correlation.");
svg.append("text").attr("x", 867).attr("y", 524).attr("text-anchor", "middle")
  .attr("font-family", "'Liberation Sans Narrow', 'Liberation Sans', Arial, sans-serif")
  .attr("font-weight", "bold").attr("font-size", 27).style("fill", "#000")
  .attr("textLength", 425).attr("lengthAdjust", "spacingAndGlyphs")
  .text("(b) Pearson correlation matrix.");
</script>
</body>
</html>
